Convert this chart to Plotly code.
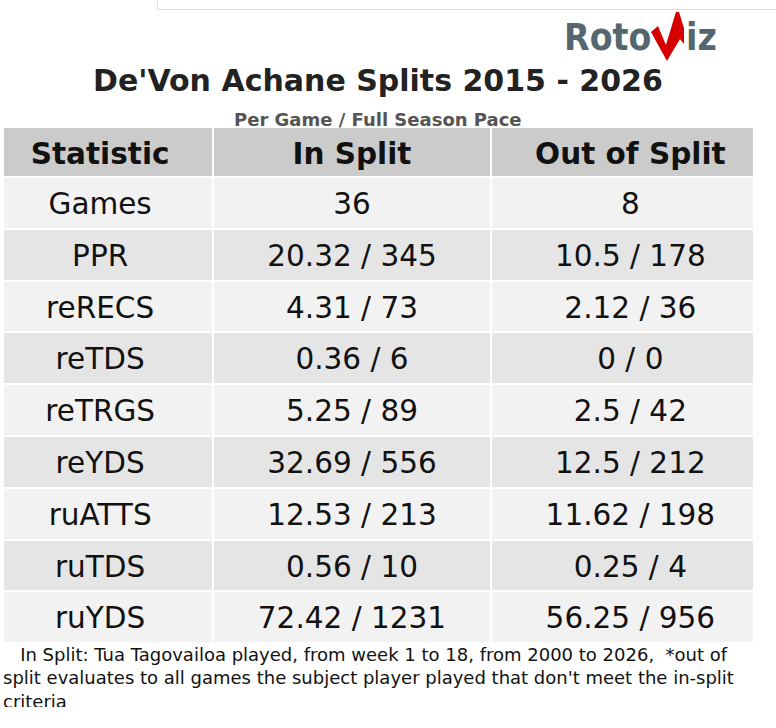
import plotly.graph_objects as go

# Data
stats = ['Games', 'PPR', 'reRECS', 'reTDS', 'reTRGS', 'reYDS', 'ruATTS', 'ruTDS', 'ruYDS']
in_split = ['36', '20.32 / 345', '4.31 / 73', '0.36 / 6', '5.25 / 89',
            '32.69 / 556', '12.53 / 213', '0.56 / 10', '72.42 / 1231']
out_split = ['8', '10.5 / 178', '2.12 / 36', '0 / 0', '2.5 / 42',
             '12.5 / 212', '11.62 / 198', '0.25 / 4', '56.25 / 956']
header_labels = ['Statistic', 'In Split', 'Out of Split']

title = "De'Von Achane Splits 2015 - 2026"
subtitle = 'Per Game / Full Season Pace'
footnote = ('   In Split: Tua Tagovailoa played, from week 1 to 18, from 2000 to 2026,  *out of<br>'
            "split evaluates to all games the subject player played that don't meet the in-split<br>"
            'criteria')

W, H = 776, 707
FONT = 'DejaVu Sans'


def fx(x):
    return x / W


def fy(y):
    return 1 - y / H


def rich(vals):
    # wrapping in a tag makes plotly lay the cell text out like the header text
    return ['<span>{}</span>'.format(v) for v in vals]


row_fills = ['#f2f2f2' if i % 2 == 0 else '#e5e5e5' for i in range(len(stats))]
blank = [''] * len(stats)

fig = go.Figure()

#----------------
# Table 1: cell fills and white grid
#----------------
fig.add_trace(
    go.Table(
        domain={'x': [fx(3), fx(754)], 'y': [0, fy(127)]},
        columnwidth=[210, 277, 263],
        header=dict(values=['', '', ''],
                    fill_color='#cbcbcb',
                    line=dict(color='white', width=2),
                    height=50),
        cells=dict(values=[blank, blank, blank],
                   fill_color=[row_fills] * 3,
                   line=dict(color='white', width=2),
                   height=51.8),
    )
)

#----------------
# Table 2: the text (its centres sit a bit off the fill columns in the original)
#----------------
clear = 'rgba(0,0,0,0)'
fig.add_trace(
    go.Table(
        domain={'x': [fx(3), fx(754)], 'y': [0, fy(129)]},
        columnwidth=[194, 309, 247],
        header=dict(values=['<b>{}</b>'.format(h) for h in header_labels],
                    fill_color=clear,
                    line=dict(color=clear, width=0),
                    align='center',
                    height=50,
                    font=dict(family=FONT, size=29.5, color='#111111')),
        cells=dict(values=[rich(stats), rich(in_split), rich(out_split)],
                   fill_color=clear,
                   line=dict(color=clear, width=0),
                   align='center',
                   height=51.8,
                   font=dict(family=FONT, size=29.5, color='#111111')),
    )
)

annotations = [
    dict(x=fx(378), y=fy(81), text='<b>{}</b>'.format(title), showarrow=False,
         xref='paper', yref='paper', xanchor='center', yanchor='middle',
         font=dict(family=FONT, size=30, color='#222222')),
    dict(x=fx(378), y=fy(119), text='<b>{}</b>'.format(subtitle), showarrow=False,
         xref='paper', yref='paper', xanchor='center', yanchor='middle',
         font=dict(family=FONT, size=18, color='#555555')),
    dict(x=fx(1), y=fy(642), text=footnote, showarrow=False, align='left',
         xref='paper', yref='paper', xanchor='left', yanchor='top',
         font=dict(family=FONT, size=18, color='#111111')),
    # logo text
    dict(x=fx(562), y=fy(37), text='<b>Roto</b>', showarrow=False,
         xref='paper', yref='paper', xanchor='left', yanchor='middle',
         font=dict(family='DejaVu Sans Condensed', size=37, color='#546670')),
    dict(x=fx(684), y=fy(37), text='<b>iz</b>', showarrow=False,
         xref='paper', yref='paper', xanchor='left', yanchor='middle',
         font=dict(family='DejaVu Sans Condensed', size=37, color='#546670')),
]

logo_pts = [(651, 32), (658, 26), (666, 45), (676, 12), (679, 12), (684, 28),
            (684, 44), (680, 39), (667, 61)]
logo_path = 'M ' + ' L '.join('{:.4f},{:.4f}'.format(fx(x), fy(y)) for x, y in logo_pts) + ' Z'

shapes = [
    dict(type='path', path=logo_path, xref='paper', yref='paper',
         fillcolor='#d40000', line=dict(width=0)),
    dict(type='line', x0=fx(157), x1=1, y0=fy(9.5), y1=fy(9.5), xref='paper', yref='paper',
         line=dict(color='#dddddd', width=1)),
    dict(type='line', x0=fx(157.5), x1=fx(157.5), y0=fy(9.5), y1=1, xref='paper', yref='paper',
         line=dict(color='#dddddd', width=1)),
]

fig.update_layout(width=W, height=H,
                  margin={'l': 0, 'r': 0, 't': 0, 'b': 0},
                  paper_bgcolor='white',
                  plot_bgcolor='white',
                  annotations=annotations,
                  shapes=shapes,
                  font=dict(family=FONT))

# page body has an 8px default margin; drop it so the figure sits at the corner
fig.write_html('out.html', config={'displayModeBar': False},
               post_script="document.body.style.margin='0';")
